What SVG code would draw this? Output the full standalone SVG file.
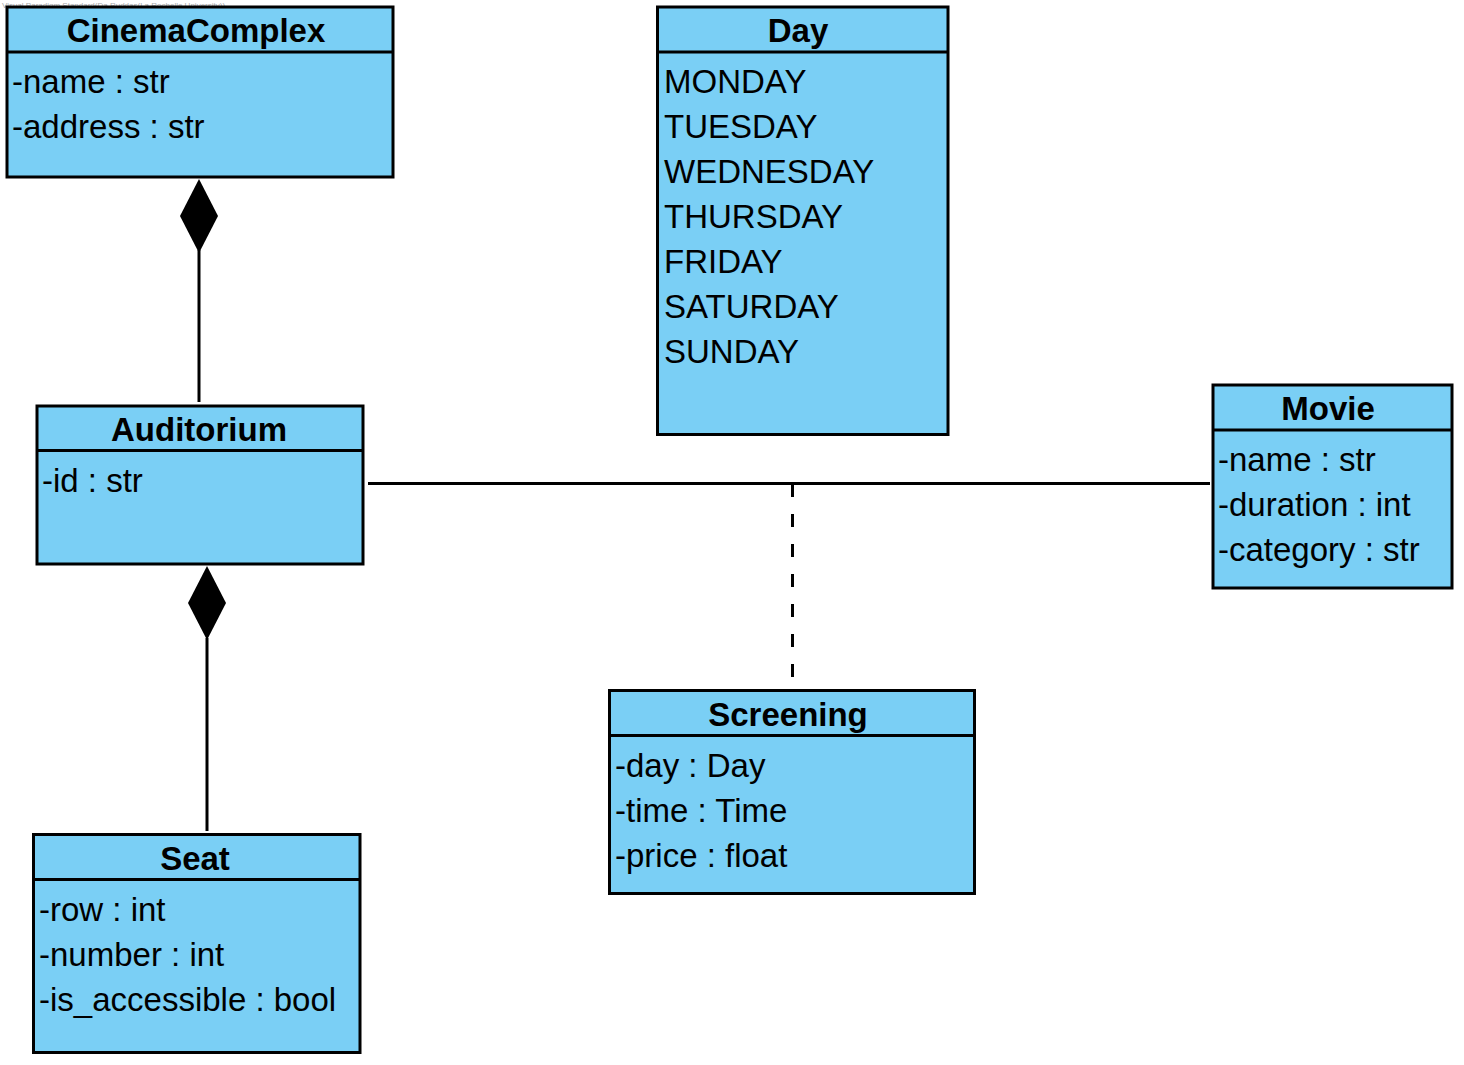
<svg xmlns="http://www.w3.org/2000/svg" width="1464" height="1065" viewBox="0 0 1464 1065">
<style>
.box{fill:#7ACFF5;stroke:#000;stroke-width:3}
.sep{stroke:#000;stroke-width:3}
.hd{font-family:"Liberation Sans",Arial,sans-serif;font-size:33px;font-weight:bold;text-anchor:middle;fill:#000}
.at{font-family:"Liberation Sans",Arial,sans-serif;font-size:33px;fill:#000}
.ln{stroke:#000;stroke-width:3;fill:none}
.wm{font-family:"Liberation Sans",Arial,sans-serif;font-size:8px;fill:#aaa}
</style>
<rect width="1464" height="1065" fill="#fff"/>
<text class="wm" x="2" y="8">Visual Paradigm Standard(Da Ruddas(La Rochelle University))</text>
<g id="connectors">
<line class="ln" x1="199" y1="250" x2="199" y2="402"/>
<polygon points="199,179 218,216 199,253 180,216" fill="#000"/>
<line class="ln" x1="207" y1="638" x2="207" y2="831"/>
<polygon points="207,566 226,603 207,640 188,603" fill="#000"/>
<line class="ln" x1="368" y1="483.5" x2="1210" y2="483.5"/>
<line class="ln" x1="792.5" y1="484" x2="792.5" y2="677" stroke-dasharray="13 17"/>
</g>
<g id="CinemaComplex">
<rect class="box" x="7" y="7" width="386" height="170"/>
<line class="sep" x1="7" y1="52" x2="393" y2="52"/>
<text class="hd" x="196" y="42">CinemaComplex</text>
<text class="at" x="12" y="93">-name : str</text>
<text class="at" x="12" y="138">-address : str</text>
</g>
<g id="Day">
<rect class="box" x="657.5" y="7" width="290.5" height="427.5"/>
<line class="sep" x1="657.5" y1="52" x2="948" y2="52"/>
<text class="hd" x="798" y="42">Day</text>
<text class="at" x="664" y="93">MONDAY</text>
<text class="at" x="664" y="138">TUESDAY</text>
<text class="at" x="664" y="183">WEDNESDAY</text>
<text class="at" x="664" y="228">THURSDAY</text>
<text class="at" x="664" y="273">FRIDAY</text>
<text class="at" x="664" y="318">SATURDAY</text>
<text class="at" x="664" y="363">SUNDAY</text>
</g>
<g id="Auditorium">
<rect class="box" x="37" y="406" width="326" height="158"/>
<line class="sep" x1="37" y1="450.5" x2="363" y2="450.5"/>
<text class="hd" x="199" y="441">Auditorium</text>
<text class="at" x="42" y="492">-id : str</text>
</g>
<g id="Movie">
<rect class="box" x="1213" y="385" width="239" height="203"/>
<line class="sep" x1="1213" y1="430" x2="1452" y2="430"/>
<text class="hd" x="1328" y="420">Movie</text>
<text class="at" x="1218" y="471">-name : str</text>
<text class="at" x="1218" y="516">-duration : int</text>
<text class="at" x="1218" y="561">-category : str</text>
</g>
<g id="Screening">
<rect class="box" x="609.5" y="690.5" width="365" height="203"/>
<line class="sep" x1="609.5" y1="735.5" x2="974.5" y2="735.5"/>
<text class="hd" x="788" y="726">Screening</text>
<text class="at" x="615" y="777">-day : Day</text>
<text class="at" x="615" y="822">-time : Time</text>
<text class="at" x="615" y="867">-price : float</text>
</g>
<g id="Seat">
<rect class="box" x="33.5" y="834.5" width="326.5" height="218"/>
<line class="sep" x1="33.5" y1="879.5" x2="360" y2="879.5"/>
<text class="hd" x="195" y="870">Seat</text>
<text class="at" x="39" y="921">-row : int</text>
<text class="at" x="39" y="966">-number : int</text>
<text class="at" x="39" y="1011">-is_accessible : bool</text>
</g>
</svg>
